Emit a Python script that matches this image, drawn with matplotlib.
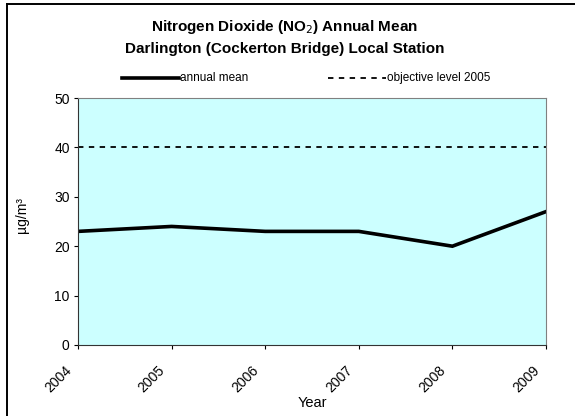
import matplotlib.pyplot as plt
from matplotlib.lines import Line2D
from matplotlib.transforms import ScaledTranslation

plt.rcParams['font.family'] = ['Liberation Sans', 'DejaVu Sans']

# Annual mean NO2 at Cockerton Bridge
years = [2004, 2005, 2006, 2007, 2008, 2009]
annual_mean = [23, 24, 23, 23, 20, 27]
objective = [40, 40, 40, 40, 40, 40]

W, H = 575, 416
fig = plt.figure(figsize=(W / 100, H / 100), dpi=100)

# axes box in pixel terms (left, top, right, bottom)
l, t, r, b = 78, 98, 546, 345
ax = fig.add_axes([l / W, 1 - b / H, (r - l) / W, (b - t) / H])
ax.set_facecolor('#CCFFFF')

ax.plot(years, objective, color='black', lw=1.3, ls=(0, (3, 3)))
ax.plot(years, annual_mean, color='black', lw=2.6, solid_joinstyle='miter')

ax.set_xlim(years[0], years[-1])
ax.set_ylim(0, 50)
ax.set_yticks(range(0, 51, 10))
ax.set_xticks(years)
ax.set_xticklabels([str(y) for y in years], rotation=45, ha='right',
                   va='baseline', rotation_mode='anchor')
ax.tick_params(axis='both', labelsize=10, direction='out', length=3,
               width=0.8, color='black')
ax.tick_params(axis='x', pad=15.5)
ax.tick_params(axis='y', pad=3)

# shift the slanted year labels a little left of their ticks
shift = ScaledTranslation(-6 / 100, 0, fig.dpi_scale_trans)
for lab in ax.get_xticklabels():
    lab.set_transform(lab.get_transform() + shift)

for side in ('top', 'right'):
    ax.spines[side].set_color('#808080')
for side in ('left', 'bottom'):
    ax.spines[side].set_color('#333333')

ax.set_xlabel('Year', fontsize=10.5, va='baseline')
ax.xaxis.set_label_coords(0.5, (b - 407) / (b - t))
ax.set_ylabel('µg/m³', fontsize=10, va='center')
ax.yaxis.set_label_coords((22.5 - l) / (r - l), (b - 215) / (b - t))

fig.text(0.495, 1 - 27 / H, 'Nitrogen Dioxide (NO$_2$) Annual Mean',
         ha='center', va='center', fontsize=11, fontweight='bold')
fig.text(0.495, 1 - 49 / H, 'Darlington (Cockerton Bridge) Local Station',
         ha='center', va='center', fontsize=11, fontweight='bold')

# legend drawn above the plot area
ly = 1 - 78 / H
fig.add_artist(Line2D([122 / W, 179 / W], [ly, ly], color='black', lw=2.6))
fig.text(180 / W, ly, 'annual mean', fontsize=8.5, va='center')
fig.add_artist(Line2D([328 / W, 386 / W], [ly, ly], color='black', lw=1.3,
                      ls=(0, (3, 3))))
fig.text(387 / W, ly, 'objective level 2005', fontsize=8.5, va='center')

# chart frame: only its top and left edges fall inside the image
fx, fy = 6.5 / W, 1 - 4 / H
fig.add_artist(Line2D([fx, 1], [fy, fy], color='black', lw=1.4))
fig.add_artist(Line2D([fx, fx], [0, fy], color='black', lw=1.4))

fig.savefig('out.png', dpi=100)
